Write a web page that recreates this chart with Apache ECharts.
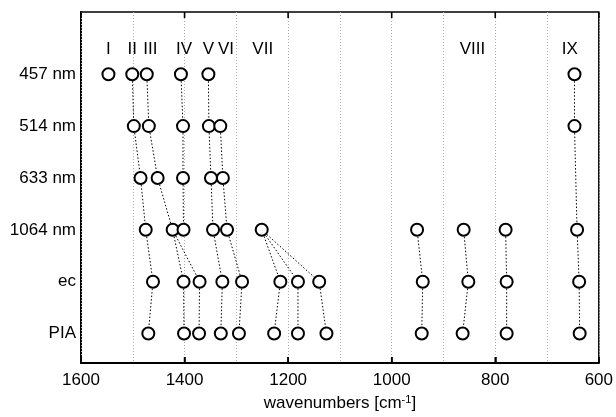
<!DOCTYPE html>
<html>
<head>
<meta charset="utf-8">
<script src="https://cdn.jsdelivr.net/npm/echarts@6/dist/echarts.min.js"></script>
<style>html,body{margin:0;padding:0;background:#fff}#c{width:616px;height:417px}</style>
</head>
<body>
<div id="c"></div>
<script>
// rows from bottom (y=1) to top (y=6)
const rows = ['PIA', 'ec', '1064 nm', '633 nm', '514 nm', '457 nm'];
const pPIA  = [1470, 1401, 1372, 1330, 1295, 1227, 1181, 1126, 942, 863, 778, 637];
const pEc   = [1461, 1402, 1371, 1327, 1289, 1215, 1181, 1140, 940, 852, 778, 638];
const p1064 = [1475, 1423, 1402, 1345, 1318, 1251, 951, 861, 780, 642];
const p633  = [1485, 1452, 1403, 1349, 1326];
const p514  = [1498, 1469, 1403, 1353, 1331, 647];
const p457  = [1547, 1501, 1473, 1407, 1354, 647];
const rowPeaks = [pPIA, pEc, p1064, p633, p514, p457];
// links: [rowFrom, peakIndexFrom, rowTo, peakIndexTo]
const links = [
  [5,1,4,0],[5,2,4,1],[5,3,4,2],[5,4,4,3],[5,5,4,5],
  [4,0,3,0],[4,1,3,1],[4,2,3,2],[4,3,3,3],[4,4,3,4],
  [4,5,2,9],
  [3,0,2,0],[3,1,2,1],[3,2,2,2],[3,3,2,3],[3,4,2,4],
  [2,0,1,0],[2,1,1,1],[2,1,1,2],[2,3,1,3],[2,4,1,4],[2,5,1,5],[2,5,1,6],[2,5,1,7],
  [2,6,1,8],[2,7,1,9],[2,8,1,10],[2,9,1,11],
  [1,0,0,0],[1,1,0,1],[1,2,0,2],[1,3,0,3],[1,4,0,4],[1,5,0,5],[1,6,0,6],[1,7,0,7],
  [1,8,0,8],[1,9,0,9],[1,10,0,10],[1,11,0,11]
];
const numerals   = ['I', 'II', 'III', 'IV', 'V', 'VI', 'VII', 'VIII', 'IX'];
const numeralPos = [1547, 1501, 1466, 1401, 1354, 1320, 1249, 844, 656];
const numeralRow = 6.475;
const xTicks = [1600, 1400, 1200, 1000, 800, 600];
const yMin = 0.43, yMax = 7.2;

const font = 'Liberation Sans, Arial, Helvetica, sans-serif';
const pts = [];
rowPeaks.forEach((arr, r) => arr.forEach(v => pts.push([v, r + 1])));

const series = [];
links.forEach(l => {
  series.push({
    type: 'line', silent: true, symbol: 'none', z: 2, animation: false,
    data: [[rowPeaks[l[0]][l[1]], l[0] + 1], [rowPeaks[l[2]][l[3]], l[2] + 1]],
    lineStyle: { color: '#000', width: 1, type: [1.5, 2] }
  });
});
series.push({
  type: 'scatter', data: pts, symbol: 'emptyCircle', symbolSize: 12, z: 3, animation: false,
  itemStyle: { color: '#000', borderColor: '#000', borderWidth: 1.4, opacity: 1 }
});
series.push({
  type: 'scatter', data: numeralPos.map((v, i) => [v, numeralRow, numerals[i]]),
  symbol: 'circle', symbolSize: 1, silent: true, animation: false, z: 4,
  itemStyle: { opacity: 0 },
  label: { show: true, position: 'top', distance: -9, formatter: p => p.data[2], color: '#000',
           fontFamily: font, fontSize: 17, textBorderWidth: 0, opacity: 1 }
});
// inward tick marks on bottom and top frame, at the axis tick values
series.push({
  type: 'scatter', silent: true, animation: false, clip: false, z: 6,
  symbol: 'rect', symbolSize: [1.6, 6], symbolOffset: [0, -3],
  itemStyle: { color: '#000', opacity: 1 },
  data: xTicks.map(v => [v, yMin])
});
series.push({
  type: 'scatter', silent: true, animation: false, clip: false, z: 6,
  symbol: 'rect', symbolSize: [1.6, 6], symbolOffset: [0, 3],
  itemStyle: { color: '#000', opacity: 1 },
  data: xTicks.map(v => [v, yMax])
});

const gridLine = { show: true, lineStyle: { color: '#aaa', type: [1, 2], width: 1 } };
const chart = echarts.init(document.getElementById('c'));
chart.setOption({
  animation: false,
  backgroundColor: '#fff',
  grid: { left: 81, right: 16, top: 12, bottom: 49, show: true, borderColor: '#000', borderWidth: 1.5 },
  xAxis: [{
    type: 'value', inverse: true, min: 600, max: 1600, interval: 200, z: 10,
    axisLine: { show: true, onZero: false, lineStyle: { color: '#000', width: 2 } },
    axisTick: { show: true, inside: true, length: 6, lineStyle: { color: '#000', width: 1.5 } },
    axisLabel: { color: '#000', fontFamily: font, fontSize: 17, margin: 9, formatter: v => String(v) },
    splitLine: { show: false },
    name: 'wavenumbers [cm{sup|-1}]', nameLocation: 'middle', nameGap: 29,
    nameTextStyle: { color: '#000', fontFamily: font, fontSize: 17,
      rich: { sup: { fontSize: 11, fontFamily: font, color: '#000', verticalAlign: 'top', padding: [0, 0, 8, 0] } } }
  }, {
    type: 'value', inverse: true, min: 600, max: 1600, interval: 100, position: 'top', z: 1,
    axisLine: { show: false },
    axisTick: { show: false },
    axisLabel: { show: false }, splitLine: gridLine
  }],
  yAxis: {
    type: 'value', min: yMin, max: yMax,
    axisLine: { show: true, onZero: false, lineStyle: { color: '#000', width: 2 } },
    axisTick: { show: false },
    splitLine: { show: false },
    axisLabel: { color: '#000', fontFamily: font, fontSize: 17, margin: 5,
                 customValues: [1, 2, 3, 4, 5, 6], formatter: v => rows[Math.round(v) - 1] || '' }
  },
  series: series
});
</script>
</body>
</html>
